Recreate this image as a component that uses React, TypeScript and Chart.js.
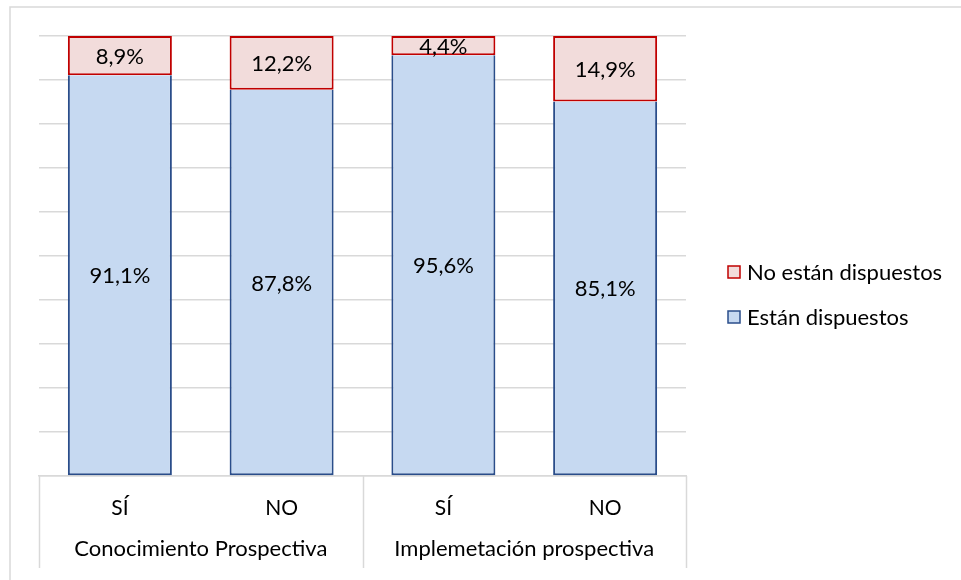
import React, { useEffect, useRef } from "react";
import { Chart, registerables } from "chart.js";

Chart.register(...registerables);

// Sub-categories (answer) and their groups
const categories = ["SÍ", "NO", "SÍ", "NO"];
const groups = ["Conocimiento Prospectiva", "Implemetación prospectiva"];

// Series values (%)
const dispuestos = [91.1, 87.8, 95.6, 85.1];
const noDispuestos = [8.9, 12.2, 4.4, 14.9];

const seriesNames = ["Están dispuestos", "No están dispuestos"];

const FONT = "Lato, 'Noto Sans', sans-serif";
const GRID = "#d9d9d9";
const BLUE_FILL = "#c6d9f1";
const BLUE_LINE = "#2a4d8a";
const RED_FILL = "#f2dcdb";
const RED_LINE = "#c00000";

const fmt = (v: number) => v.toFixed(1).replace(".", ",") + "%";

const decorations = {
  id: "decorations",
  beforeDraw(chart: any) {
    const { ctx } = chart;
    ctx.save();
    ctx.strokeStyle = GRID;
    ctx.lineWidth = 1.5;
    ctx.strokeRect(10, 7, 980, 600);
    ctx.restore();
  },
  afterDatasetsDraw(chart: any) {
    const { ctx, chartArea } = chart;
    const x = chart.scales.x;
    ctx.save();

    // value labels centred in each segment
    ctx.font = `22px ${FONT}`;
    ctx.fillStyle = "#000";
    ctx.textAlign = "center";
    ctx.textBaseline = "middle";
    chart.data.datasets.forEach((ds: any, di: number) => {
      const meta = chart.getDatasetMeta(di);
      meta.data.forEach((el: any, i: number) => {
        const p = el.getProps(["x", "y", "base"], true);
        ctx.fillText(fmt(ds.data[i]), p.x, (p.y + p.base) / 2 + 1);
      });
    });

    // group separators and group labels
    const mid = (x.getPixelForValue(1) + x.getPixelForValue(2)) / 2;
    const bottom = chartArea.bottom;
    ctx.strokeStyle = GRID;
    ctx.lineWidth = 1.5;
    [chartArea.left, mid, chartArea.right].forEach((px) => {
      ctx.beginPath();
      ctx.moveTo(Math.round(px) + 0.5, bottom);
      ctx.lineTo(Math.round(px) + 0.5, bottom + 92);
      ctx.stroke();
    });
    ctx.fillStyle = "#000";
    ctx.font = `22px ${FONT}`;
    ctx.fillText(groups[0], (chartArea.left + mid) / 2, bottom + 73);
    ctx.fillText(groups[1], (mid + chartArea.right) / 2, bottom + 73);

    // legend
    const items = [
      { label: seriesNames[1], fill: RED_FILL, line: RED_LINE },
      { label: seriesNames[0], fill: BLUE_FILL, line: BLUE_LINE },
    ];
    ctx.textAlign = "left";
    ctx.font = `22px ${FONT}`;
    items.forEach((it, k) => {
      const cy = 272 + k * 45;
      const bx = chartArea.right + 42;
      ctx.fillStyle = it.fill;
      ctx.fillRect(bx, cy - 6, 12, 12);
      ctx.strokeStyle = it.line;
      ctx.lineWidth = 1.5;
      ctx.strokeRect(bx, cy - 6, 12, 12);
      ctx.fillStyle = "#000";
      ctx.fillText(it.label, bx + 19, cy + 1);
    });
    ctx.restore();
  },
};

export default function App() {
  const ref = useRef<HTMLCanvasElement>(null);

  useEffect(() => {
    const chart = new Chart(ref.current!, {
      type: "bar",
      data: {
        labels: categories,
        datasets: [
          {
            label: seriesNames[0],
            data: dispuestos,
            backgroundColor: BLUE_FILL,
            borderColor: BLUE_LINE,
            borderWidth: 2,
            borderSkipped: "top",
            categoryPercentage: 1,
            barPercentage: 0.643,
          },
          {
            label: seriesNames[1],
            data: noDispuestos,
            backgroundColor: RED_FILL,
            borderColor: RED_LINE,
            borderWidth: 2,
            borderSkipped: false,
            categoryPercentage: 1,
            barPercentage: 0.643,
          },
        ],
      },
      options: {
        responsive: false,
        animation: false,
        layout: { padding: { left: 39, top: 36, right: 275, bottom: 0 } },
        plugins: { legend: { display: false }, tooltip: { enabled: false } },
        scales: {
          x: {
            stacked: true,
            grid: { display: false },
            border: { color: GRID, width: 1.5 },
            ticks: { color: "#000", font: { family: FONT, size: 21 }, padding: 12 },
            afterFit: (s: any) => {
              s.height = 104;
            },
          },
          y: {
            stacked: true,
            min: 0,
            max: 100,
            ticks: { display: false, stepSize: 10 },
            grid: { color: GRID, lineWidth: 1.5, drawTicks: false },
            border: { display: false },
            afterFit: (s: any) => {
              s.width = 0;
            },
          },
        },
      },
      plugins: [decorations],
    });
    return () => chart.destroy();
  }, []);

  return (
    <div style={{ position: "absolute", left: 0, top: 0, width: 961, height: 580, background: "#fff" }}>
      <canvas ref={ref} width={961} height={580} />
    </div>
  );
}
